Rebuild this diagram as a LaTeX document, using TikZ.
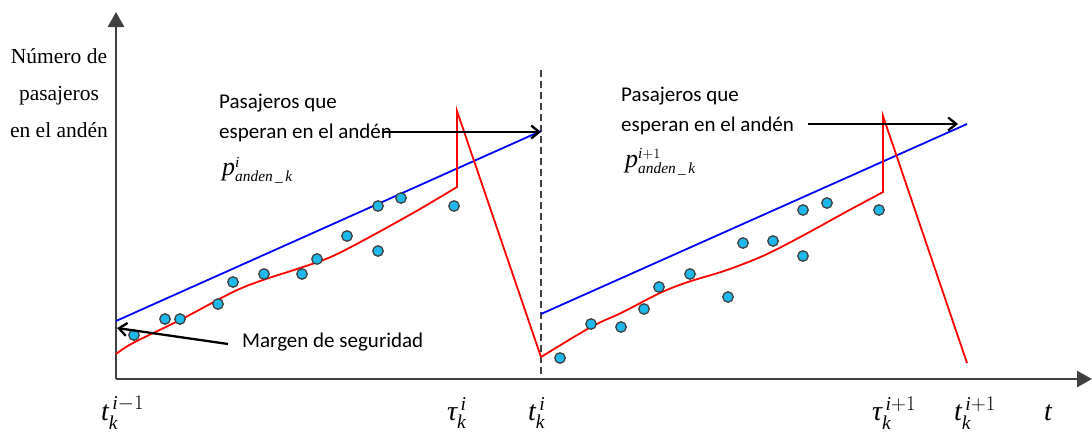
\documentclass[tikz,border=0pt]{standalone}
\usepackage{amsmath}
\usepackage{fontspec}
\setmainfont{Liberation Serif}
\newfontfamily\calib{Carlito}
\usetikzlibrary{arrows.meta}
\definecolor{axisgray}{RGB}{64,64,64}
\definecolor{dotfill}{RGB}{30,185,235}
\begin{document}
\begin{tikzpicture}[x=1pt,y=-1pt,
  axisline/.style={draw=axisgray,line width=2.8pt,-{Triangle[length=15pt,width=16pt]}},
  dashline/.style={draw=axisgray,line width=1.8pt,dash pattern=on 7pt off 4pt},
  blueline/.style={draw=blue,line width=1.8pt},
  redline/.style={draw=red,line width=1.8pt,line join=miter},
  blackarrow/.style={draw=black,line width=2.3pt,-{Straight Barb[length=8pt,width=13pt]}},
  dot/.style={circle,draw=axisgray,fill=dotfill,line width=1.3pt,minimum size=10.5pt,inner sep=0pt},
  serlabel/.style={font=\fontsize{21.5}{24}\selectfont,inner sep=0pt,anchor=base},
  sanslabel/.style={font=\calib\fontsize{21}{24}\selectfont,inner sep=0pt,anchor=base west},
  mathlabel/.style={font=\fontsize{28}{30}\selectfont,inner sep=0pt,anchor=base west},
  plabel/.style={font=\fontsize{22}{24}\selectfont,inner sep=0pt,anchor=base west}
]
\useasboundingbox (0,0) rectangle (1092,434);

% axes
\coordinate (O) at (116,379);
\coordinate (ytop) at (116,12);
\coordinate (xend) at (1092,379);
\draw[axisline] (O) -- (ytop);
\draw[axisline] (O) -- (xend);

% dashed separator
\coordinate (dtop) at (541,70);
\coordinate (dbot) at (541,379);
\draw[dashline] (dtop) -- (dbot);

% blue lines
\coordinate (b1s) at (116,321);
\coordinate (b1e) at (541,131);
\coordinate (b2s) at (541,314);
\coordinate (b2e) at (967,124);
\draw[blueline] (b1s) -- (b1e);
\draw[blueline] (b2s) -- (b2e);

% red curves
\draw[redline] plot[smooth,tension=0.55] coordinates {(116,354) (133,343) (180,320) (233,292) (263,280) (300,268) (333,256) (377,233) (420,209) (457,187)} -- (457,111) -- (541,357);
\draw[redline] plot[smooth,tension=0.55] coordinates {(541,357) (591,327) (621,313) (660,293) (688,282) (727,270) (765,255) (804,235) (844,213) (883,192)} -- (883,116) -- (967,363);

% dots
\foreach \x/\y [count=\i] in {134/335,165/319,180/319,218/304,233/282,264/274,302/274,317/259,347/236,378/251,378/206,401/198,454/206}
  \node[dot] (dl\i) at (\x,\y) {};
\foreach \x/\y [count=\i] in {560/358,591/324,621/327,644/309,659/287,690/274,728/297,743/243,773/241,803/256,803/210,827/203,879/210}
  \node[dot] (dr\i) at (\x,\y) {};

% y-axis label
\node[serlabel] (yl1) at (59,63) {Número de};
\node[serlabel] (yl2) at (59,100) {pasajeros};
\node[serlabel] (yl3) at (59,137) {en el andén};

% left annotation
\node[sanslabel] (pl1) at (219,108) {Pasajeros que};
\node[sanslabel] (pl2) at (219,138) {esperan en el andén};
\node[plabel] (pp1) at (222,175) {$\text{\fontsize{26}{28}\selectfont\itshape p}^{\textit{i}}_{\textit{anden}\,\textit{\_}\,\textit{k}}$};
\coordinate (a1s) at (382,132);
\coordinate (a1e) at (541,132);
\draw[blackarrow] (a1s) -- (a1e);

% right annotation
\node[sanslabel] (pr1) at (621,101) {Pasajeros que};
\node[sanslabel] (pr2) at (621,131) {esperan en el andén};
\node[plabel] (pp2) at (625,167) {$\text{\fontsize{26}{28}\selectfont\itshape p}^{\textit{i}+1}_{\textit{anden}\,\textit{\_}\,\textit{k}}$};
\coordinate (a2s) at (808,124);
\coordinate (a2e) at (958,124);
\draw[blackarrow] (a2s) -- (a2e);

% margin annotation
\node[sanslabel] (mg) at (242,347) {Margen de seguridad};
\coordinate (m1s) at (228,344);
\coordinate (m1e) at (117,328);
\draw[blackarrow] (m1s) -- (m1e);

% time labels
\node[mathlabel] (t0) at (101,420) {$\textit{t}^{\,\textit{i}-1}_{\textit{k}}$};
\node[mathlabel] (tau1) at (447,420) {$\textit{τ}^{\,\textit{i}}_{\textit{k}}$};
\node[mathlabel] (t1) at (528,420) {$\textit{t}^{\,\textit{i}}_{\textit{k}}$};
\node[mathlabel] (tau2) at (872,420) {$\textit{τ}^{\,\textit{i}+1}_{\textit{k}}$};
\node[mathlabel] (t2) at (954,420) {$\textit{t}^{\,\textit{i}+1}_{\textit{k}}$};
\node[mathlabel] (tt) at (1044,420) {\textit{t}};
\end{tikzpicture}
\end{document}
